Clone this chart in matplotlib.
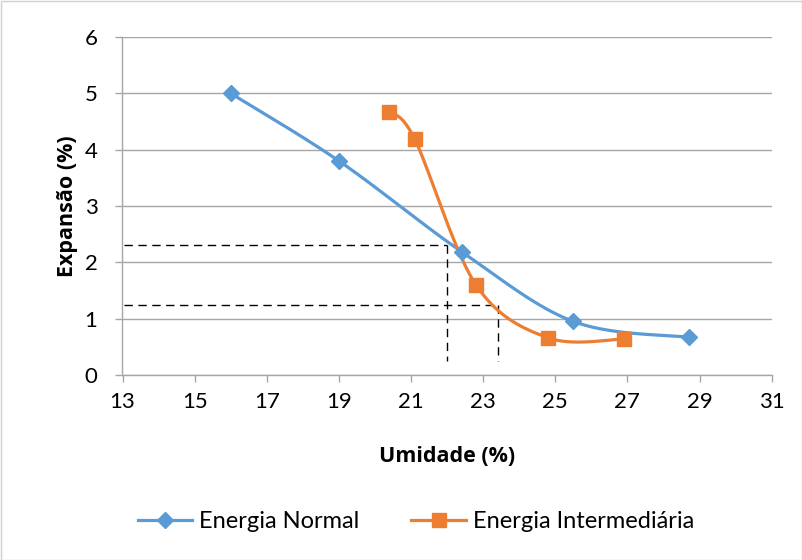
import numpy as np
import matplotlib
matplotlib.use("Agg")
import matplotlib.pyplot as plt
from matplotlib.lines import Line2D
from matplotlib.patches import Rectangle

# Data
normal_x = [16.0, 19.0, 22.4, 25.5, 28.7]
normal_y = [5.0, 3.8, 2.19, 0.95, 0.67]
inter_x = [20.4, 21.1, 22.8, 24.8, 26.9]
inter_y = [4.67, 4.19, 1.60, 0.66, 0.64]

# Reference readings (dashed guides)
guide_x = [22.0, 23.4]
guide_y = [2.31, 1.25]

x_ticks = list(range(13, 32, 2))
y_ticks = list(range(0, 7))

BLUE = "#5B9BD5"
ORANGE = "#ED7D31"
GRID = "#A6A6A6"

plt.rcParams["font.family"] = ["Lato", "DejaVu Sans"]


def smooth(xs, ys, n=40):
    """Catmull-Rom style Bezier smoothing through the points."""
    p = np.column_stack([xs, ys]).astype(float)
    pts = np.vstack([p[0], p, p[-1]])
    out = []
    t = np.linspace(0, 1, n)[:, None]
    for i in range(1, len(pts) - 2):
        p0, p1, p2, p3 = pts[i - 1], pts[i], pts[i + 1], pts[i + 2]
        c1 = p1 + (p2 - p0) / 6.0
        c2 = p2 - (p3 - p1) / 6.0
        seg = ((1 - t) ** 3) * p1 + 3 * ((1 - t) ** 2) * t * c1 + 3 * (1 - t) * t ** 2 * c2 + t ** 3 * p2
        out.append(seg if i == 1 else seg[1:])
    arr = np.vstack(out)
    return arr[:, 0], arr[:, 1]


fig = plt.figure(figsize=(8.03, 5.6), dpi=100)
ax = fig.add_axes([122.5 / 803, 1 - 375 / 560, (771.7 - 122.5) / 803, (375 - 37) / 560])

ax.set_xlim(13, 31)
ax.set_ylim(0, 6)
ax.set_xticks(x_ticks)
ax.set_yticks(y_ticks)
ax.grid(axis="y", color=GRID, linewidth=1.0)
ax.set_axisbelow(True)
for side in ["top", "right"]:
    ax.spines[side].set_visible(False)
for side in ["left", "bottom"]:
    ax.spines[side].set_color(GRID)
    ax.spines[side].set_linewidth(1.0)
ax.tick_params(axis="both", colors=GRID, labelcolor="black", labelsize=16, length=5, width=1.0)
ax.tick_params(axis="x", pad=7)
ax.tick_params(axis="y", pad=13)

# Dashed guide lines
for gx, gy in zip(guide_x, guide_y):
    ax.plot([13.05, gx], [gy, gy], color="black", linestyle=(0, (6, 4)), linewidth=1.0, zorder=2)
    ax.plot([gx, gx], [gy, 0.24], color="black", linestyle=(0, (6, 4)), linewidth=1.0, zorder=2)

sx, sy = smooth(normal_x, normal_y)
ax.plot(sx, sy, color=BLUE, linewidth=2.3, zorder=3, solid_capstyle="round")
ax.plot(normal_x, normal_y, linestyle="none", marker="D", markersize=8, color=BLUE, zorder=4)

sx, sy = smooth(inter_x, inter_y)
ax.plot(sx, sy, color=ORANGE, linewidth=2.3, zorder=3, solid_capstyle="round")
ax.plot(inter_x, inter_y, linestyle="none", marker="s", markersize=10.5, color=ORANGE, zorder=5)

title_font = dict(family=["Open Sans", "DejaVu Sans"], fontsize=15.5, fontweight="bold")
ax.set_xlabel("Umidade (%)", labelpad=25, **title_font)
ax.set_ylabel("Expansão (%)", labelpad=5, **title_font)

handles = [
    Line2D([], [], color=BLUE, linewidth=2.3, marker="D", markersize=8),
    Line2D([], [], color=ORANGE, linewidth=2.3, marker="s", markersize=10.5),
]
fig.legend(handles, ["Energia Normal", "Energia Intermediária"], loc="center",
           bbox_to_anchor=(416 / 803, 1 - 522 / 560), ncol=2, frameon=False,
           fontsize=17, handlelength=2.3, columnspacing=2.2, handletextpad=0.3)

# Chart border
fig.patches.append(Rectangle((0.5 / 803, 0.5 / 560), 1 - 1.5 / 803, 1 - 1.5 / 560,
                             transform=fig.transFigure, fill=False, edgecolor="#D0D0D0", linewidth=1.0))

fig.savefig("out.png", dpi=100)
